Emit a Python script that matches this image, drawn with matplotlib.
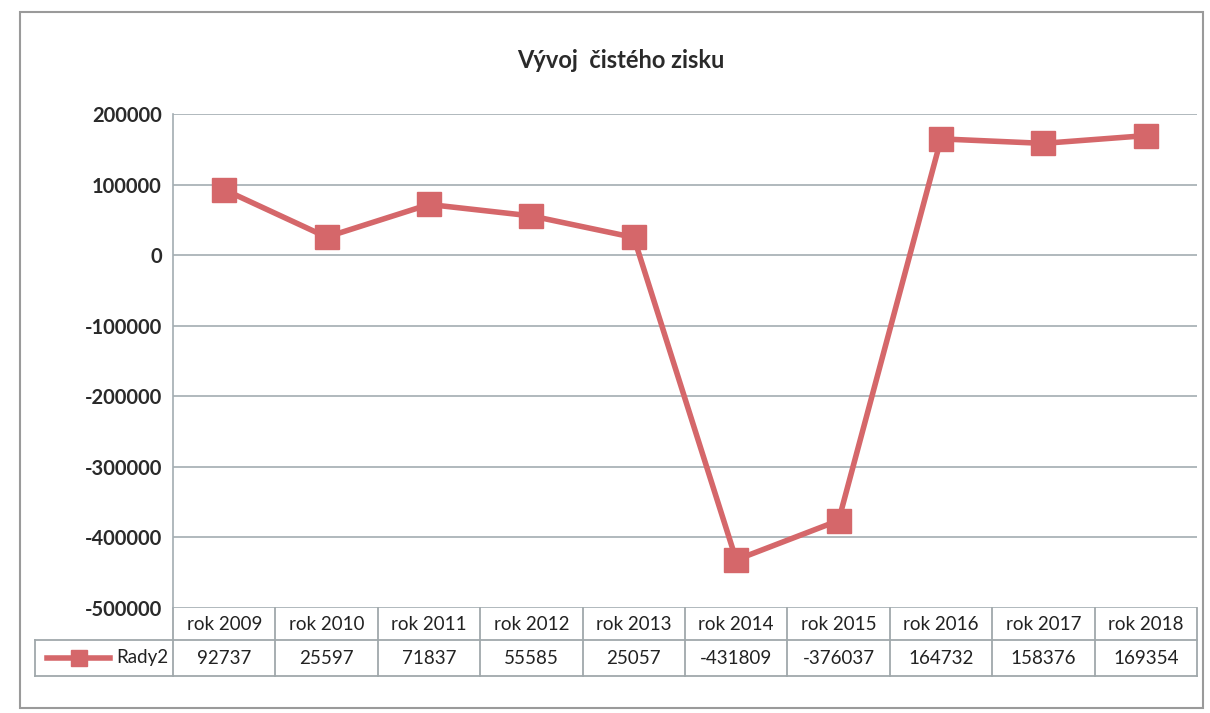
import matplotlib
matplotlib.use("Agg")
import matplotlib.pyplot as plt
from matplotlib.patches import Rectangle
from matplotlib.lines import Line2D
import matplotlib.transforms as mtransforms

categories = ["rok 2009", "rok 2010", "rok 2011", "rok 2012", "rok 2013",
              "rok 2014", "rok 2015", "rok 2016", "rok 2017", "rok 2018"]
values = [92737, 25597, 71837, 55585, 25057, -431809, -376037, 164732, 158376, 169354]
series_name = "Rady2"
title = "Vývoj  čistého zisku"
yticks = [200000, 100000, 0, -100000, -200000, -300000, -400000, -500000]

plt.rcParams['font.family'] = ['Lato', 'DejaVu Sans']
W, H = 1210, 713
fig = plt.figure(figsize=(W / 100, H / 100), dpi=100)
fig.patch.set_facecolor("white")

# chart border
fig.patches.append(Rectangle((20 / W, 1 - 708 / H), (1203 - 20) / W, (708 - 12) / H,
                             transform=fig.transFigure, fill=False,
                             edgecolor="#9a9a9a", linewidth=1.5))

left, right, top, bottom = 173, 1197, 114, 608
ax = fig.add_axes([left / W, 1 - bottom / H, (right - left) / W, (bottom - top) / H])

color = "#d5676a"
xs = list(range(len(categories)))
ax.plot(xs, values, color=color, linewidth=4, marker="s", markersize=17,
        markerfacecolor=color, markeredgecolor=color, zorder=3)

ax.set_xlim(-0.5, len(categories) - 0.5)
ax.set_ylim(-500000, 200000)
ax.set_yticks(yticks)
ax.set_yticklabels([str(v) for v in yticks], fontsize=14.5, fontweight="bold", color="#2a2a2a")
ax.tick_params(axis="y", length=0, pad=8)
ax.set_xticks([])
ax.grid(axis="y", color="#a3adb2", linewidth=1.2)
for s in ["top", "right", "bottom"]:
    ax.spines[s].set_visible(False)
ax.spines["left"].set_color("#a3adb2")
ax.spines["left"].set_linewidth(1.2)

fig.text(621 / W, 1 - 60 / H, title, ha="center", va="center", fontsize=17,
         fontweight="bold", color="#2a2a2a")

# data table below plot
trans = mtransforms.blended_transform_factory(ax.transData, ax.transAxes)
ax_h = bottom - top
row1 = 32 / ax_h
row2 = 36 / ax_h
lc = "#a0a8ab"
y0 = 0
y1 = -row1
y2 = -row1 - row2
legend_left = -138 / (right - left)

kw = dict(clip_on=False, color=lc, linewidth=1.3)
ax.add_line(Line2D([-0.5, len(categories) - 0.5], [y1, y1], transform=trans, **kw))
ax.add_line(Line2D([0, 1], [y2, y2], transform=ax.transAxes, **kw))
ax.add_line(Line2D([legend_left, 0], [y1, y1], transform=ax.transAxes, **kw))
ax.add_line(Line2D([legend_left, 0], [y2, y2], transform=ax.transAxes, **kw))
ax.add_line(Line2D([legend_left, legend_left], [y1, y2], transform=ax.transAxes, **kw))
ax.add_line(Line2D([0, 0], [y0, y2], transform=ax.transAxes, **kw))
for i in range(len(categories)):
    xb = i + 0.5
    ax.add_line(Line2D([xb, xb], [y0, y2], transform=trans, **kw))

for i, (c, v) in enumerate(zip(categories, values)):
    ax.text(i, (y0 + y1) / 2, c, transform=trans, ha="center", va="center",
            fontsize=13.5, color="#222222", clip_on=False)
    ax.text(i, (y1 + y2) / 2, str(v), transform=trans, ha="center", va="center",
            fontsize=13.5, color="#222222", clip_on=False)

# legend key in table
ym = (y1 + y2) / 2
lx0 = legend_left + 12 / (right - left)
lx1 = legend_left + 75 / (right - left)
ax.add_line(Line2D([lx0, lx1], [ym, ym], transform=ax.transAxes, color=color,
                   linewidth=4, clip_on=False))
ax.add_line(Line2D([(lx0 + lx1) / 2], [ym], transform=ax.transAxes, color=color,
                   marker="s", markersize=11, clip_on=False))
ax.text(-5 / (right - left), ym, series_name, transform=ax.transAxes, ha="right",
        va="center", fontsize=13.5, color="#222222", clip_on=False)

fig.savefig("out.png", dpi=100)
